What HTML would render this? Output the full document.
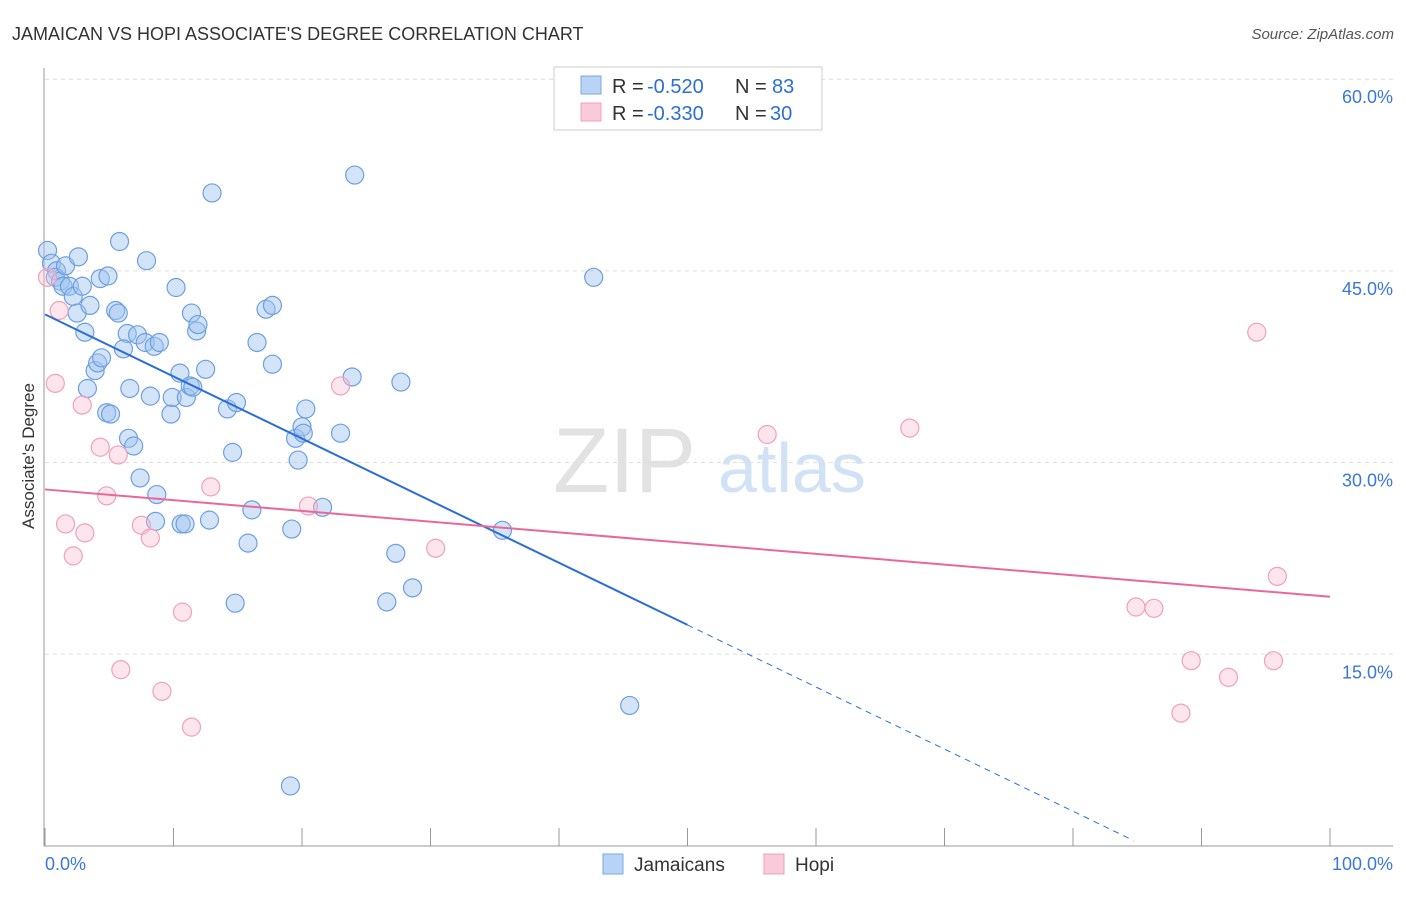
<!DOCTYPE html>
<html><head><meta charset="utf-8"><style>
body{margin:0;background:#fff;font-family:"Liberation Sans",sans-serif;}
svg text{font-family:"Liberation Sans",sans-serif;}
</style></head><body>
<svg id="chart" width="1406" height="892">
<text x="12" y="40" font-size="18" fill="#333">JAMAICAN VS HOPI ASSOCIATE'S DEGREE CORRELATION CHART</text>
<text x="1394" y="39" font-size="15" fill="#555" font-style="italic" text-anchor="end">Source: ZipAtlas.com</text>
<text x="34" y="456" font-size="17" fill="#333" text-anchor="middle" transform="rotate(-90 34 456)">Associate's Degree</text>
<text x="553" y="492" font-size="92" fill="#e2e2e2" font-family="Liberation Serif">ZIP</text>
<text x="718" y="492" font-size="70" fill="#d2e2f6">atlas</text>
<g id="grid"></g><g id="axes"></g><g id="pts"></g><g id="lines"></g>
<g>
<rect x="554" y="67" width="268" height="63" fill="#fff" stroke="#ccc"/>
<rect x="581" y="76" width="20" height="18" fill="#b8d3f5" stroke="#7aa8e0"/>
<text x="612" y="93" font-size="20" fill="#333">R =</text>
<text x="647" y="93" font-size="20" fill="#2a6fd6">-0.520</text>
<text x="735" y="93" font-size="20" fill="#333">N =</text>
<text x="772" y="93" font-size="20" fill="#2a6fd6">83</text>
<rect x="581" y="103" width="20" height="18" fill="#f9cad9" stroke="#f0a0bc"/>
<text x="612" y="120" font-size="20" fill="#333">R =</text>
<text x="647" y="120" font-size="20" fill="#2a6fd6">-0.330</text>
<text x="735" y="120" font-size="20" fill="#333">N =</text>
<text x="770" y="120" font-size="20" fill="#2a6fd6">30</text>
</g>
<g>
<rect x="603" y="854" width="20" height="20" fill="#b8d3f5" stroke="#7aa8e0"/>
<text x="634" y="871" font-size="19" fill="#333">Jamaicans</text>
<rect x="764" y="854" width="20" height="20" fill="#f9cad9" stroke="#f0a0bc"/>
<text x="795" y="871" font-size="19" fill="#333">Hopi</text>
</g>
</svg>
<script>
const yTicks=[15,30,45,60];
const yTickLabels=["15.0%","30.0%","45.0%","60.0%"];
const xTickLabels=["0.0%","100.0%"];
const jamX=[0.2,0.5,0.9,0.8,1.2,1.6,1.4,1.9,2.2,2.6,2.9,2.5,3.1,3.5,3.3,3.9,4.1,4.4,4.8,5.1,4.3,4.9,5.8,5.5,5.7,6.4,6.1,6.6,6.5,6.9,7.4,7.2,7.8,7.9,8.2,8.5,8.9,8.7,8.6,9.8,9.9,10.2,10.5,10.6,11.0,10.9,11.3,11.5,11.4,11.8,11.9,12.5,12.8,13.0,14.2,14.6,14.9,14.8,15.8,16.1,16.5,17.2,17.7,17.7,19.2,19.5,19.7,20.0,20.1,20.3,19.1,21.6,23.0,23.9,24.1,26.6,27.3,27.7,28.6,35.6,42.7,45.5];
const jamY=[46.6,45.6,45.0,44.5,44.2,45.4,43.8,43.8,43.0,46.1,43.8,41.7,40.2,42.3,35.8,37.2,37.8,38.2,33.9,33.8,44.4,44.6,47.3,41.9,41.7,40.1,38.9,35.8,31.9,31.3,28.8,40.0,39.4,45.8,35.2,39.1,39.4,27.5,25.4,33.8,35.1,43.7,37.0,25.2,35.1,25.2,36.0,35.9,41.7,40.3,40.8,37.3,25.5,51.1,34.2,30.8,34.7,19.0,23.7,26.3,39.4,42.0,37.7,42.3,24.8,31.9,30.2,32.8,32.3,34.2,4.7,26.5,32.3,36.7,52.5,19.1,22.9,36.3,20.2,24.7,44.5,11.0];
const hopiX=[0.2,0.8,1.1,1.6,2.2,2.9,3.1,4.3,4.8,5.7,5.9,7.5,8.2,9.1,10.7,11.4,12.9,20.5,23.0,30.4,56.2,67.3,84.9,86.3,88.4,89.2,92.1,94.3,95.6,95.9];
const hopiY=[44.5,36.2,41.9,25.2,22.7,34.5,24.5,31.2,27.4,30.6,13.8,25.1,24.1,12.1,18.3,9.3,28.1,26.6,36.0,23.3,32.2,32.7,18.7,18.6,10.4,14.5,13.2,40.2,14.5,21.1];
const jamTrend=[41.6,17.3]; // at x=0, x=50
const hopiTrend=[27.9,19.5]; // at x=0, x=100
const NS="http://www.w3.org/2000/svg";
const sx=v=>45+v*12.85, sy=v=>846-v*12.78;
function mk(tag,attrs,parent){const e=document.createElementNS(NS,tag);for(const k in attrs)e.setAttribute(k,attrs[k]);document.getElementById(parent).appendChild(e);return e;}
yTicks.forEach((t,i)=>{
 const g=mk('line',{x1:45,x2:1393,y1:sy(t),y2:sy(t),stroke:'#ddd','stroke-dasharray':'4 4'},'grid');
 
 
 const tx=mk('text',{x:1393,y:sy(t)+24,'font-size':18,fill:'#3a78d8','text-anchor':'end'},'grid');
 tx.textContent=yTickLabels[i];
 
 
});
mk('line',{x1:44,x2:44,y1:68,y2:846,stroke:'#999'},'axes');
mk('line',{x1:44,x2:1393,y1:846,y2:846,stroke:'#999'},'axes');
for(let i=0;i<=10;i++){const l=mk('line',{x1:sx(i*10),x2:sx(i*10),y1:828,y2:846,stroke:'#999'},'axes');
 
 }
[[0,45,'start'],[1,1393,'end']].forEach(([i,x,a])=>{const t=mk('text',{x:x,y:870,'font-size':18,fill:'#3a78d8','text-anchor':a},'axes');t.textContent=xTickLabels[i];
 
 });
jamX.forEach((x,i)=>{const c=mk('circle',{cx:sx(x),cy:sy(jamY[i]),r:9,fill:'rgba(160,196,240,0.45)',stroke:'#6d9fe0','stroke-width':1.2},'pts');
 
 });
hopiX.forEach((x,i)=>{const c=mk('circle',{cx:sx(x),cy:sy(hopiY[i]),r:9,fill:'rgba(248,190,210,0.4)',stroke:'#f0a0bc','stroke-width':1.2},'pts');
 
 });
const jf=x=>jamTrend[0]+(jamTrend[1]-jamTrend[0])*x/50;
const l1=mk('line',{x1:sx(0),y1:sy(jf(0)),x2:sx(50),y2:sy(jf(50)),stroke:'#2a6fd6','stroke-width':2},'lines');


const l2=mk('line',{x1:sx(50),y1:sy(jf(50)),x2:sx(84.7),y2:sy(jf(84.7)),stroke:'#2a6fd6','stroke-width':1,'stroke-dasharray':'6 5'},'lines');


const l3=mk('line',{x1:sx(0),y1:sy(hopiTrend[0]),x2:sx(100),y2:sy(hopiTrend[1]),stroke:'#e8689a','stroke-width':2},'lines');


</script>
</body></html>
